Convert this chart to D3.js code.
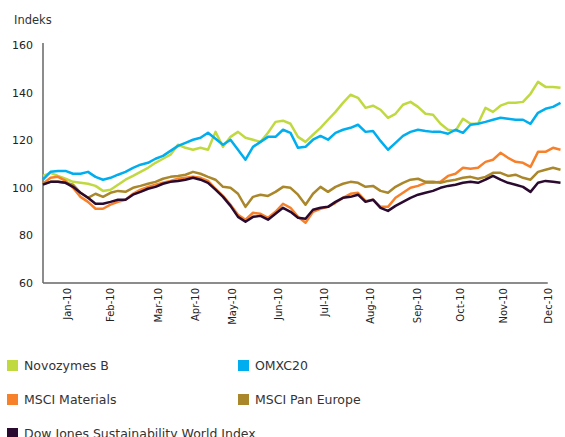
<!DOCTYPE html>
<html>
<head>
<meta charset="utf-8">
<script src="https://cdn.jsdelivr.net/npm/d3@7"></script>
<style>
    body { margin: 0; background: #fff; }
    text { font-family: "DejaVu Sans", Verdana, sans-serif; fill: #333; }
</style>
</head>
<body>
<div id="chart"></div>
<script>
const width = 565;
const height = 437;

// month labels and where they sit along the series (point index)
const months = ["Jan-10", "Feb-10", "Mar-10", "Apr-10", "May-10", "Jun-10",
    "Jul-10", "Aug-10", "Sep-10", "Oct-10", "Nov-10", "Dec-10"];
const monthIdx = [3.2, 8.9, 15.3, 20.3, 25.2, 31.3, 37.5, 43.6, 49.9, 55.6, 61.3, 67.3];

const yTicks = [60, 80, 100, 120, 140, 160];

// index values
const novozymes = [105.0, 106.3, 105.0, 103.8, 102.5, 102.1, 101.7, 100.8, 98.7, 99.2,
    101.3, 103.4, 105.0, 106.7, 108.4, 110.5, 112.2, 113.9, 118.1, 116.8,
    116.0, 116.8, 116.0, 123.5, 117.2, 121.4, 123.5, 121.0, 120.2, 119.3,
    123.1, 127.7, 128.2, 126.9, 121.4, 119.3, 122.3, 125.2, 128.6, 131.9,
    135.7, 139.1, 137.8, 133.6, 134.5, 132.8, 129.4, 131.1, 134.9, 136.1,
    134.0, 131.1, 130.7, 126.9, 124.4, 123.9, 129.0, 126.9, 126.9, 133.6,
    131.9, 134.5, 135.7, 135.7, 136.1, 139.5, 144.5, 142.4, 142.4, 142.0];

const omxc20 = [103.4, 106.7, 107.1, 107.1, 105.9, 105.9, 106.7, 104.6, 103.4, 104.2,
    105.5, 106.7, 108.4, 109.7, 110.5, 112.2, 113.4, 115.5, 117.6, 118.9,
    120.2, 121.0, 123.1, 120.6, 118.1, 120.2, 116.0, 111.8, 117.2, 119.3,
    121.4, 121.4, 124.4, 123.1, 116.8, 117.2, 120.2, 121.8, 120.2, 123.1,
    124.4, 125.2, 126.5, 123.5, 123.9, 119.7, 116.0, 118.9, 121.8, 123.5,
    124.4, 123.9, 123.5, 123.5, 122.7, 124.4, 123.1, 126.5, 126.9, 127.7,
    128.6, 129.4, 129.0, 128.6, 128.6, 126.9, 131.5, 133.2, 134.0, 135.7];

const msciMaterials = [101.7, 104.2, 104.6, 102.9, 100.0, 96.2, 94.1, 91.2, 91.2, 92.9,
    94.1, 95.0, 97.5, 99.2, 100.4, 101.3, 102.1, 102.9, 103.8, 104.2,
    104.6, 104.2, 102.9, 99.6, 96.6, 92.9, 88.7, 86.6, 89.5, 89.1,
    87.4, 89.9, 93.3, 91.6, 87.8, 85.3, 89.9, 91.2, 92.0, 93.7,
    95.8, 97.5, 97.9, 94.5, 95.0, 92.0, 92.0, 95.8, 97.9, 100.0,
    100.8, 102.1, 102.1, 102.5, 105.0, 105.9, 108.4, 108.0, 108.4, 110.9,
    111.8, 114.7, 112.6, 110.9, 110.5, 108.8, 115.1, 115.1, 116.8, 116.0];

const msciPanEurope = [101.7, 102.5, 102.5, 102.1, 101.3, 97.9, 95.8, 97.5, 96.2, 97.9,
    98.7, 98.3, 100.0, 100.8, 101.7, 102.5, 103.8, 104.6, 105.0, 105.5,
    106.7, 105.9, 104.6, 103.4, 100.4, 100.0, 97.5, 92.0, 96.2, 97.1,
    96.6, 98.3, 100.4, 100.0, 97.1, 92.9, 97.5, 100.4, 98.3, 100.4,
    101.7, 102.5, 102.1, 100.4, 100.8, 98.7, 97.9, 100.4, 102.1, 103.4,
    103.8, 102.5, 102.5, 102.1, 102.9, 103.4, 104.2, 104.6, 103.8, 104.6,
    106.3, 106.3, 105.0, 105.5, 104.2, 103.4, 106.7, 107.6, 108.4, 107.6];

const djsi = [101.3, 102.5, 102.5, 102.1, 100.4, 97.9, 95.8, 93.3, 93.3, 94.1,
    95.0, 95.0, 97.1, 98.3, 99.6, 100.4, 101.7, 102.5, 102.9, 103.4,
    104.2, 103.4, 102.1, 99.2, 96.2, 92.4, 87.8, 85.7, 87.8, 88.2,
    86.6, 89.1, 91.6, 89.9, 87.4, 87.0, 90.8, 91.6, 92.0, 94.1,
    95.8, 96.2, 97.1, 94.1, 95.0, 91.6, 90.3, 92.4, 94.1, 95.8,
    97.1, 97.9, 98.7, 100.0, 100.8, 101.3, 102.1, 102.5, 102.1, 103.4,
    105.0, 103.4, 102.1, 101.3, 100.4, 98.3, 102.1, 102.9, 102.5, 102.1];

const seriesNames = ["Novozymes B", "OMXC20", "MSCI Materials", "MSCI Pan Europe",
    "Dow Jones Sustainability World Index"];
const seriesValues = [novozymes, omxc20, msciMaterials, msciPanEurope, djsi];
const colors = ["#c1d940", "#00aeef", "#f7812b", "#a9872a", "#2b0a30"];

const svg = d3.select("#chart").append("svg")
    .attr("width", width)
    .attr("height", height);

const plotLeft = 43, plotRight = 560.5, plotTop = 45, plotBottom = 283;

const x = d3.scaleLinear()
    .domain([0, novozymes.length - 1])
    .range([plotLeft, plotRight]);

const y = d3.scaleLinear()
    .domain([60, 160])
    .range([plotBottom, plotTop]);

// axis title
svg.append("text")
    .attr("x", 14)
    .attr("y", 24)
    .style("font-size", "11.5px")
    .text("Indeks");

// y axis
const yAxis = svg.append("g")
    .attr("transform", `translate(${plotLeft},0)`)
    .call(d3.axisLeft(y).tickValues(yTicks).tickSize(0).tickPadding(10));
yAxis.select(".domain").remove();
yAxis.selectAll("text").style("font-size", "11px").style("fill", "#222");

svg.append("line")
    .attr("x1", plotLeft).attr("x2", plotLeft)
    .attr("y1", plotTop - 2).attr("y2", plotBottom)
    .style("stroke", "#666")
    .style("stroke-width", 1.5);

// x axis
const xAxis = svg.append("g")
    .attr("transform", `translate(0,${plotBottom})`)
    .call(d3.axisBottom(x).tickValues(monthIdx).tickFormat((d, i) => months[i]).tickSize(0));
xAxis.select(".domain").remove();
xAxis.selectAll("text")
    .attr("transform", "rotate(-90)")
    .attr("x", -5)
    .attr("y", 0)
    .attr("dy", "0.35em")
    .style("text-anchor", "end")
    .style("font-size", "10px")
    .style("fill", "#222");

svg.append("line")
    .attr("x1", plotLeft).attr("x2", x(monthIdx[monthIdx.length - 1]))
    .attr("y1", plotBottom).attr("y2", plotBottom)
    .style("stroke", "#666")
    .style("stroke-width", 1.5);

// lines
const line = d3.line()
    .x((d, i) => x(i))
    .y(d => y(d));

svg.append("g")
    .selectAll("path")
    .data(seriesValues)
    .enter().append("path")
    .attr("d", d => line(d))
    .style("fill", "none")
    .style("stroke", (d, i) => colors[i])
    .style("stroke-width", 2.5)
    .style("stroke-linejoin", "round");

// legend, two columns
const legend = svg.append("g")
    .selectAll("g")
    .data(seriesNames)
    .enter().append("g")
    .attr("transform", (d, i) => `translate(${i % 2 === 0 ? 7 : 238},${360 + Math.floor(i / 2) * 34})`);

legend.append("rect")
    .attr("width", 11)
    .attr("height", 11)
    .style("fill", (d, i) => colors[i]);

legend.append("text")
    .attr("x", 17)
    .attr("y", 10)
    .style("font-size", "12.5px")
    .text(d => d);
</script>
</body>
</html>
